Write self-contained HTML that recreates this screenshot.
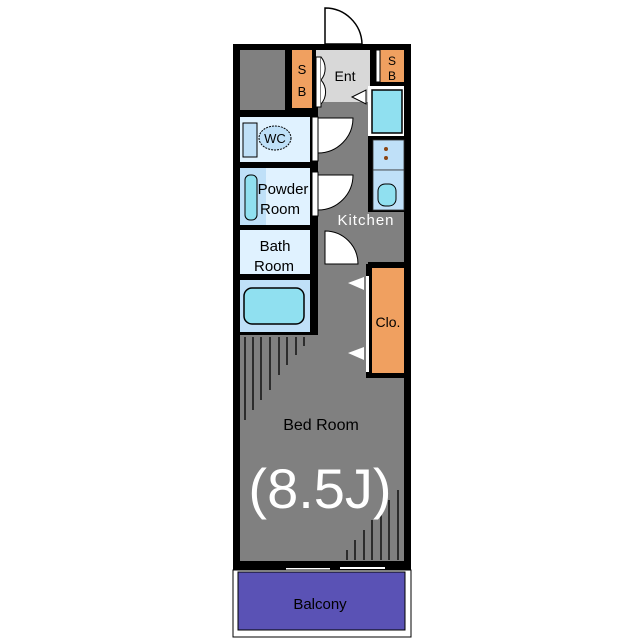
<!DOCTYPE html>
<html><head><meta charset="utf-8"><style>html,body{margin:0;padding:0;background:#fff}svg{display:block}</style></head>
<body>
<svg width="640" height="640" viewBox="0 0 640 640" xmlns="http://www.w3.org/2000/svg" font-family="Liberation Sans, sans-serif">
<path d="M325 8 L325 44 L362 44 A37 37 0 0 0 325 8 Z" fill="#fff" stroke="#000" stroke-width="1.5"/>
<rect x="233" y="44" width="178" height="526" fill="#000"/>
<rect x="318" y="100" width="50" height="180" fill="#808080"/>
<rect x="318" y="212" width="86" height="50" fill="#808080"/>
<rect x="240" y="335" width="164" height="226" fill="#808080"/>
<rect x="318" y="270" width="50" height="70" fill="#808080"/>
<rect x="240" y="50" width="45" height="60" fill="#808080"/>
<rect x="292" y="50" width="20" height="58" fill="#f0a060"/>
<text x="302" y="74" font-size="13" text-anchor="middle" fill="#000">S</text>
<text x="302" y="96" font-size="13" text-anchor="middle" fill="#000">B</text>
<rect x="316" y="50" width="54" height="52" fill="#d8d8d8"/>
<rect x="316" y="57" width="5" height="50" fill="#fff" stroke="#000" stroke-width="1"/>
<path d="M321 57 A18 18 0 0 1 321 80 M321 80 A18 18 0 0 1 321 104" fill="#fff" stroke="#000"/>
<text x="345" y="81" font-size="14" text-anchor="middle" fill="#000">Ent</text>
<rect x="380" y="50" width="24" height="32" fill="#f0a060"/>
<rect x="376" y="50" width="4" height="32" fill="#fff" stroke="#000" stroke-width="1"/>
<text x="392" y="65" font-size="12" text-anchor="middle" fill="#000">S</text>
<text x="392" y="80" font-size="12" text-anchor="middle" fill="#000">B</text>
<polygon points="352,97 366,90 366,104" fill="#fff" stroke="#000"/>
<rect x="368" y="86" width="36" height="50" fill="#fff"/>
<rect x="372" y="90" width="30" height="43" fill="#90e0f0" stroke="#000" stroke-width="1.5"/>
<rect x="373" y="140" width="31" height="30" fill="#bfe0f8" stroke="#333" stroke-width="0.8"/>
<circle cx="386" cy="149" r="2" fill="#8b4513"/><circle cx="386" cy="158" r="2" fill="#8b4513"/>
<rect x="373" y="170" width="31" height="40" fill="#bfe0f8" stroke="#333" stroke-width="0.8"/>
<rect x="378" y="184" width="18" height="22" rx="7" fill="#90e0f0" stroke="#000"/>
<rect x="240" y="117" width="70" height="45" fill="#e0f2ff"/>
<rect x="243" y="123" width="14" height="34" fill="#bfe0f8" stroke="#000"/>
<ellipse cx="275" cy="138" rx="16" ry="12" fill="#bfe0f8" stroke="#000" stroke-dasharray="2,1"/>
<text x="275" y="143" font-size="13" text-anchor="middle" fill="#000">WC</text>
<rect x="312" y="117" width="6" height="44" fill="#fff" stroke="#000"/>
<rect x="312" y="172" width="6" height="44" fill="#fff" stroke="#000"/>
<path d="M318 118 L353 118 A35 35 0 0 1 318 153 Z" fill="#fff" stroke="#000"/>
<path d="M318 175 L353 175 A35 35 0 0 1 318 210 Z" fill="#fff" stroke="#000"/>
<path d="M325 231 L325 264 L358 264 A33 33 0 0 0 325 231 Z" fill="#fff" stroke="#000"/>
<rect x="240" y="168" width="70" height="57" fill="#e0f2ff"/>
<rect x="240" y="168" width="26" height="57" fill="#bfe0f8"/>
<rect x="245" y="175" width="12" height="45" rx="5" fill="#90e0f0" stroke="#000"/>
<text x="283" y="194" font-size="15" text-anchor="middle" fill="#000">Powder</text>
<text x="280" y="214" font-size="15" text-anchor="middle" fill="#000">Room</text>
<rect x="240" y="230" width="70" height="44" fill="#e0f2ff"/>
<text x="275" y="251" font-size="15" text-anchor="middle" fill="#000">Bath</text>
<text x="274" y="271" font-size="15" text-anchor="middle" fill="#000">Room</text>
<rect x="240" y="280" width="70" height="52" fill="#bfe0f8"/>
<rect x="244" y="288" width="60" height="36" rx="8" fill="#90e0f0" stroke="#000" stroke-width="1.5"/>
<text x="366" y="225" font-size="15" text-anchor="middle" fill="#fff" letter-spacing="1">Kitchen</text>
<rect x="366" y="264" width="40" height="114" fill="#000"/>
<rect x="372" y="268" width="32" height="105" fill="#f0a060"/>
<rect x="366" y="276" width="3" height="96" fill="#fff"/>
<text x="388" y="327" font-size="14" text-anchor="middle" fill="#000">Clo.</text>
<polygon points="348,283 364,277 364,290" fill="#fff"/>
<polygon points="348,353 364,347 364,360" fill="#fff"/>
<g stroke="#000" stroke-width="1.3">
<line x1="245" y1="337" x2="245" y2="420"/><line x1="253" y1="337" x2="253" y2="410"/><line x1="261" y1="337" x2="261" y2="400"/><line x1="270" y1="337" x2="270" y2="390"/><line x1="279" y1="337" x2="279" y2="375"/><line x1="287" y1="337" x2="287" y2="365"/><line x1="296" y1="337" x2="296" y2="355"/><line x1="304" y1="337" x2="304" y2="346"/>
<line x1="347" y1="560" x2="347" y2="550"/><line x1="355" y1="560" x2="355" y2="540"/><line x1="364" y1="560" x2="364" y2="530"/><line x1="372" y1="560" x2="372" y2="520"/><line x1="381" y1="560" x2="381" y2="510"/><line x1="389" y1="560" x2="389" y2="500"/><line x1="398" y1="560" x2="398" y2="490"/>
</g>
<text x="321" y="430" font-size="16" text-anchor="middle" fill="#000">Bed Room</text>
<text x="320" y="508" font-size="56" text-anchor="middle" fill="#fff">(8.5J)</text>
<line x1="286" y1="569" x2="330" y2="569" stroke="#fff" stroke-width="2"/>
<line x1="340" y1="568" x2="385" y2="568" stroke="#fff" stroke-width="2"/>
<rect x="233" y="570" width="178" height="67" fill="#fff" stroke="#000" stroke-width="1"/>
<rect x="238" y="572" width="167" height="58" fill="#5a52b5" stroke="#000" stroke-width="1"/>
<text x="320" y="609" font-size="15" text-anchor="middle" fill="#000">Balcony</text>
</svg>
</body></html>
